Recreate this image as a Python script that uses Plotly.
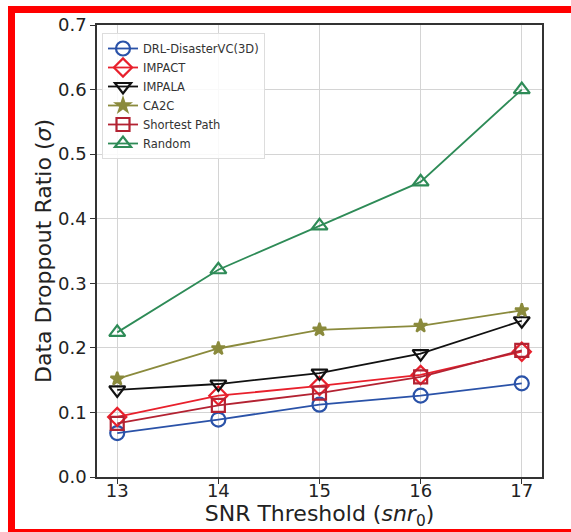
import plotly.graph_objects as go

# SNR thresholds on the x axis
snr = [13, 14, 15, 16, 17]

# Data dropout ratio for each method
drl_disastervc = [0.068, 0.089, 0.112, 0.126, 0.145]
impact = [0.093, 0.126, 0.141, 0.158, 0.194]
impala = [0.135, 0.144, 0.161, 0.191, 0.242]
ca2c = [0.152, 0.199, 0.228, 0.234, 0.258]
shortest_path = [0.083, 0.111, 0.130, 0.155, 0.196]
random_policy = [0.224, 0.321, 0.389, 0.457, 0.600]

y_ticks = [0.0, 0.1, 0.2, 0.3, 0.4, 0.5, 0.6, 0.7]

series = [
    ("DRL-DisasterVC(3D)", drl_disastervc, "#2a52a8", "circle-open", 14),
    ("IMPACT", impact, "#e8202c", "diamond-open", 14),
    ("IMPALA", impala, "#111111", "triangle-down-open", 14),
    ("CA2C", ca2c, "#8a8a3c", "star", 10),
    ("Shortest Path", shortest_path, "#b32232", "square-open", 13),
    ("Random", random_policy, "#2e8b57", "triangle-up-open", 14),
]

fig = go.Figure()
for name, vals, color, symbol, size in series:
    fig.add_trace(go.Scatter(
        x=snr, y=vals, name=name, mode="lines+markers",
        line=dict(color=color, width=1.8),
        marker=dict(symbol=symbol, size=size, color=color,
                    line=dict(color=color, width=2.2)),
    ))

W, H = 571, 532
L, R, T, B = 97, 29, 25, 55
pw, ph = W - L - R, H - T - B


def px(x):
    return (x - L) / pw


def py(y):
    return (H - B - y) / ph


# Red frame around the figure
frame = [(8, 6, 15, 532), (8, 6, 571, 13), (8, 529, 571, 532)]
shapes = [
    dict(type="rect", xref="paper", yref="paper", layer="above",
         x0=px(a), x1=px(c), y0=py(d), y1=py(b),
         fillcolor="#ff0000", line=dict(width=0))
    for a, b, c, d in frame
]

tick_font = dict(family="DejaVu Sans", size=18, color="#222222")
title_font = dict(family="DejaVu Sans", size=22, color="#222222")
fig.update_layout(
    width=W, height=H,
    margin=dict(l=L, r=R, t=T, b=B),
    paper_bgcolor="white", plot_bgcolor="white",
    shapes=shapes,
    showlegend=True,
    legend=dict(
        x=px(102), y=py(33), xanchor="left", yanchor="top",
        font=dict(family="DejaVu Sans", size=11.5, color="#333333"),
        bgcolor="rgba(255,255,255,0.85)", bordercolor="#dddddd", borderwidth=1,
        itemwidth=30, tracegroupgap=0,
    ),
    xaxis=dict(
        range=[12.8, 17.2], tickvals=snr, ticktext=[str(v) for v in snr],
        tickfont=tick_font, showgrid=True, gridcolor="#d4d4d4", gridwidth=1,
        showline=True, linecolor="#333333", linewidth=1.5, mirror=True,
        ticks="outside", ticklen=5, tickcolor="#333333", zeroline=False,
        ticklabelstandoff=-8,
        automargin=False,
        title=dict(text="SNR Threshold (<i>snr</i><sub>0</sub>)", font=title_font, standoff=0),
    ),
    yaxis=dict(
        range=[0.0, 0.7], tickvals=y_ticks, ticktext=[f"{v:.1f}" for v in y_ticks],
        tickfont=tick_font, showgrid=True, gridcolor="#d4d4d4", gridwidth=1,
        showline=True, linecolor="#333333", linewidth=1.5, mirror=True,
        ticks="outside", ticklen=5, tickcolor="#333333", zeroline=False,
        automargin=False,
        title=dict(text="Data Droppout Ratio (<i>σ</i>)", font=title_font, standoff=0),
    ),
)

fig.write_html("out.html")
